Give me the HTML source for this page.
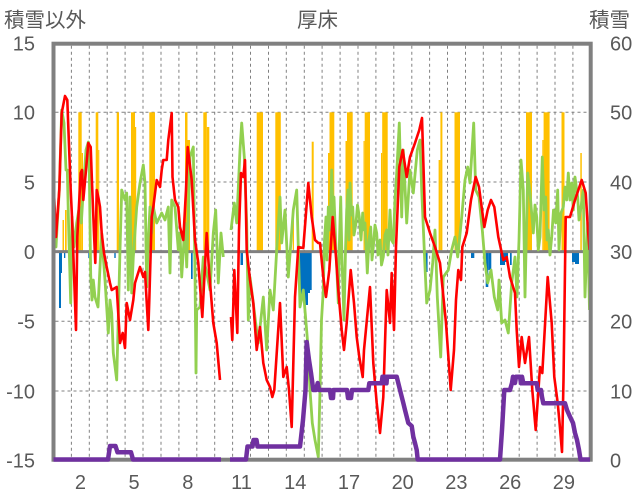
<!DOCTYPE html>
<html><head><meta charset="utf-8"><style>
html,body{margin:0;padding:0;background:#fff;}
svg{display:block;}
text{font-family:"Liberation Sans","Noto Sans CJK JP",sans-serif;fill:#595959;}
</style></head><body>
<svg width="636" height="501" viewBox="0 0 636 501" xmlns="http://www.w3.org/2000/svg">
<rect x="0" y="0" width="636" height="501" fill="#fff"/>
<!-- titles -->
<text x="4" y="27" font-size="20.5">積雪以外</text>
<text x="317.5" y="27" font-size="20.5" text-anchor="middle">厚床</text>
<text x="589" y="27" font-size="20.5">積雪</text>
<!-- left ticks -->
<g font-size="20" text-anchor="end">
<text x="35" y="50.5">15</text>
<text x="35" y="119.5">10</text>
<text x="35" y="189.3">5</text>
<text x="35" y="259">0</text>
<text x="35" y="328.6">-5</text>
<text x="35" y="398.3">-10</text>
<text x="35" y="467.5">-15</text>
</g>
<g font-size="20">
<text x="610" y="50.5">60</text>
<text x="610" y="119.5">50</text>
<text x="610" y="189.3">40</text>
<text x="610" y="259">30</text>
<text x="610" y="328.6">20</text>
<text x="610" y="398.3">10</text>
<text x="610" y="467.5">0</text>
</g>
<g font-size="20" text-anchor="middle">
<text x="80.4" y="489">2</text>
<text x="134.1" y="489">5</text>
<text x="187.8" y="489">8</text>
<text x="241.5" y="489">11</text>
<text x="295.3" y="489">14</text>
<text x="349" y="489">17</text>
<text x="402.7" y="489">20</text>
<text x="456.4" y="489">23</text>
<text x="510.2" y="489">26</text>
<text x="563.9" y="489">29</text>
</g>
<!-- gridlines -->
<g stroke="#808080" stroke-width="1" stroke-dasharray="3,3" fill="none">
<path d="M55.5 112.3H588.7M55.5 182H588.7M55.5 321.3H588.7M55.5 391H588.7"/>
<path d="M71.4 45.7V457.5M89.3 45.7V457.5M107.2 45.7V457.5M125.1 45.7V457.5M143.0 45.7V457.5M161.0 45.7V457.5M178.9 45.7V457.5M196.8 45.7V457.5M214.7 45.7V457.5M232.6 45.7V457.5M250.5 45.7V457.5M268.5 45.7V457.5M286.3 45.7V457.5M304.3 45.7V457.5M322.1 45.7V457.5M340.1 45.7V457.5M358.0 45.7V457.5M375.9 45.7V457.5M393.8 45.7V457.5M411.8 45.7V457.5M429.6 45.7V457.5M447.5 45.7V457.5M465.5 45.7V457.5M483.3 45.7V457.5M501.3 45.7V457.5M519.2 45.7V457.5M537.1 45.7V457.5M555.0 45.7V457.5M572.9 45.7V457.5"/>
</g>
<!-- orange bars -->
<g fill="#FFC000">
<rect x="62.5" y="220" width="1.5" height="31.6"/>
<rect x="65" y="210" width="1.7" height="41.6"/>
<rect x="78.3" y="112.3" width="3.4" height="139.3"/>
<rect x="81.7" y="153" width="1.3" height="98.6"/>
<rect x="95.7" y="112.3" width="2.6" height="139.3"/>
<rect x="98.3" y="150" width="1" height="101.6"/>
<rect x="116.7" y="112.3" width="2.3" height="139.3"/>
<rect x="131" y="112.3" width="4" height="139.3"/>
<rect x="135" y="127" width="1.2" height="124.6"/>
<rect x="149.3" y="112.3" width="5.7" height="139.3"/>
<rect x="185" y="112.3" width="2.5" height="139.3"/>
<rect x="187.5" y="140" width="2.5" height="111.6"/>
<rect x="203.3" y="112.3" width="3.5" height="139.3"/>
<rect x="206.8" y="127" width="2.5" height="124.6"/>
<rect x="256.7" y="112.3" width="6.3" height="139.3"/>
<rect x="275.3" y="112.3" width="5.5" height="139.3"/>
<rect x="292.7" y="210" width="1.3" height="41.6"/>
<rect x="311.7" y="141.7" width="2" height="110"/>
<rect x="328" y="153" width="1.5" height="98.6"/>
<rect x="329.5" y="112.3" width="4.8" height="139.3"/>
<rect x="345.5" y="141" width="1.5" height="110.6"/>
<rect x="347" y="112.3" width="5.7" height="139.3"/>
<rect x="363.5" y="141" width="1.2" height="110.6"/>
<rect x="364.7" y="112.3" width="5.3" height="139.3"/>
<rect x="381" y="153" width="1.2" height="98.6"/>
<rect x="382.2" y="112.3" width="5.5" height="139.3"/>
<rect x="438.6" y="160" width="1.8" height="91.6"/>
<rect x="440.4" y="112.3" width="2" height="139.3"/>
<rect x="454.5" y="112.3" width="5.5" height="139.3"/>
<rect x="526" y="112.3" width="6" height="139.3"/>
<rect x="542.3" y="140" width="1.3" height="111.6"/>
<rect x="543.6" y="112.3" width="6" height="139.3"/>
<rect x="561.5" y="112.3" width="3" height="139.3"/>
<rect x="580.3" y="153" width="1.5" height="98.6"/>
</g>
<!-- blue bars -->
<g fill="#0070C0">
<rect x="59" y="251.6" width="2" height="56.4"/>
<rect x="61" y="251.6" width="1" height="21.4"/>
<rect x="64" y="251.6" width="1.3" height="6.4"/>
<rect x="88.3" y="251.6" width="1.7" height="6.4"/>
<rect x="114.3" y="251.6" width="1.4" height="6.4"/>
<rect x="191" y="251.6" width="1.7" height="27.4"/>
<rect x="240.5" y="251.6" width="2.5" height="13.4"/>
<rect x="246.7" y="251.6" width="1.6" height="41.4"/>
<rect x="300" y="251.6" width="2" height="48.4"/>
<rect x="302" y="251.6" width="2" height="45.4"/>
<rect x="304" y="251.6" width="2" height="61.4"/>
<rect x="306" y="251.6" width="2" height="53.4"/>
<rect x="308" y="251.6" width="2" height="41.4"/>
<rect x="310" y="251.6" width="1.7" height="38.4"/>
<rect x="424.3" y="251.6" width="3.3" height="20.4"/>
<rect x="471" y="251.6" width="3.3" height="6.4"/>
<rect x="485.7" y="251.6" width="2.6" height="35.4"/>
<rect x="488.3" y="251.6" width="3" height="18.4"/>
<rect x="500" y="251.6" width="5" height="13.4"/>
<rect x="505" y="251.6" width="3" height="10.4"/>
<rect x="510" y="251.6" width="1.7" height="13.4"/>
<rect x="572" y="251.6" width="3" height="10.4"/>
<rect x="575" y="251.6" width="4" height="12.4"/>
</g>
<!-- zero line -->
<line x1="53.5" y1="251.6" x2="590.7" y2="251.6" stroke="#808080" stroke-width="3"/>
<!-- green -->
<g fill="none" stroke="#92D050" stroke-width="2.8" stroke-linejoin="round">
<polyline points="54,233 56,247 57.3,223 59.3,190 61.7,110 64,123 66,170 67.3,170 68.7,230 70.7,303 72,217 74,247 76.7,223 79.3,207 81.3,223 83.3,190 86,150 88.3,142 89.3,173 90.7,275 92,300 93.3,280 95,297 98,307 101.7,233 103.3,257 105,280 108.3,333 110,300 111.7,313 113.3,353 116.7,380 118.3,317 120,250 121.7,190 125,200 126.7,193 128.3,290 130,197 131.7,293 133.3,257 136.7,207 140,183 143.3,165 145,183 146.7,287 148.3,240 150,207 151.7,233 153.3,207 156.7,223 161.7,213 165,220 168.3,207 170,273 171.7,200 175,207 178.3,250 180,233 181.7,277 185,223 186.7,267 190,157 193.3,147 195,273 196,373 196.7,310 200,307 203.3,257 206.7,273 210,290 213.3,233 215.7,210 218.3,283 221,233 223.3,257"/>
<polyline points="231,230 234.3,203 236.7,223 240,150 241.7,123 244.3,157 246.7,223 248.3,320 250,277 253.3,303 255.7,323 258.3,343 263.3,297 266.7,350 270,290 273.3,310 276.7,250 280,197 281.7,243 285,210 288.3,277 293.3,210 296.7,190 300,307 303.3,290 307.7,343 310,390 312.3,423 315,440 318.3,457 320,390 321.5,320 323.3,290 324.5,240 326,217 327,260 328.3,207 330,230 331.7,170 333,215 334,197 336,250 338.3,303 339.5,240 340.7,197 342,260 344,320 345.5,250 346.7,210 348,190 349,240 350,183 351.5,215 352.7,207 354,235 356,223 357.5,205 359.3,217 361,240 362.7,213 364,230 365,223 366.3,250 367.3,273 369,240 370.7,227 372,260 373.3,247 375,225 376.7,233 378,255 380,240 381.5,265 383.3,257 385,235 386.7,230 388,255 390,210 391.5,240 393.3,243 395,200 396.7,173 399.3,123 401.7,217 403.3,150 406.7,223 410,170 413.3,193 417.3,150 420,140 421.7,190 425,267 426.7,303 430,290 432.7,263 435,230 437.3,297 440.7,357 443.3,277 448.3,270 451.7,250 455,237 457.7,257 461.7,217 465,180 467.7,167 470,183 473.7,123 475.7,190 479,197 482.3,230 485,263 487.7,283 491,270 494.3,297 497.7,310 499,280 501.7,323 505,320 508.3,333 511.7,283 515,257 517,297 519,240 521,160 523.3,190 525,297 527.7,173 530,193 533.3,233 535,205 536.7,217 538.3,250 540,237 542.3,157 544,210 545.7,197 547,240 548.3,230 550,255 551.7,237 553.5,210 555.7,223 557.7,190 559,250 561,213 563.3,207 565,187 566.7,200 568.3,173 570,200 571.7,183 573.3,210 575,177 577.7,197 579,220 581,207 583.3,190 585,297 587.7,223 589.5,310"/>
</g>
<!-- red -->
<g fill="none" stroke="#FF0000" stroke-width="2.6" stroke-linejoin="round">
<polyline points="54,193 56,237 59.3,190 61.7,113 65,96 67.3,100 70.7,190 72,217 76,330 77.3,237 80.7,173 82,170 83.3,200 86,170 88.3,143 90.7,147 92,183 94,233 95.3,263 96.7,190 98.3,197 100,207 101.7,233 104,253 106.7,267 110,283 111.7,290 116.7,287 120,343 122.7,333 125,348 126.7,303 130,320 133.3,300 135,283 140,267 143.3,277 145,272 148.3,330 149.3,300 151.7,217 153.3,207 156.7,180 160,187 161.7,170 163.3,160 166.7,160 168.3,140 171.7,113 172.5,177 175,200 178.3,207 180,227 183.3,240 186,190 187.7,147 191.7,180 195,240 198.3,263 202.3,317 206.7,233 209,270 213.3,323 216.7,343 220,380"/>
<polyline points="231,317 232.3,340 234.3,270 237.3,333 239,230 241,173 243.3,177 245,160 246.7,250 250,280 253.3,303 256.7,350 260,327 263.3,363 266.7,380 270,387 272.3,397 274.3,390 280,303 283.3,377 286.7,367 289,390 291.7,427 295,297 298.3,247 303.3,248 305.7,217 308.3,183 311.7,217 315,240 318.3,243 320,243 323.3,277 326,297 329.3,270 332.7,217 336,257 338.3,290 341.7,330 344,350 346.7,323 350.7,270 354,303 356.7,337 359.3,357 362.7,377 364,350 370,287 373.3,363 376.7,403 380,433 383.3,397 386.7,290 390,323 391.7,273 394,330 396,247 399.3,167 402.7,150 406.7,177 410,157 415,143 419.3,130 422,118 425,217 430,233 435,247 440,263 446,323 450.7,390 454,350 456,300 458.3,270 461,280 462.3,247 466.7,233 471,200 475.7,177 479,187 484.3,227 487.7,210 491,200 494.3,207 498.3,237 503.3,260 506.7,257 510,277 515,293 516.7,330 519,367 521.7,337 525,363 529,337 532.3,390 535.7,430 540,367 542.3,373 547.7,277 551.7,323 554.3,377 557.7,403 559.3,420 562,452 563.5,380 565.7,217 570,217 575,200 581.7,180 585.7,193 588,230 589.5,250"/>
</g>
<!-- border -->
<rect x="53.5" y="43.7" width="537.2" height="416" fill="none" stroke="#808080" stroke-width="4"/>
<!-- purple -->
<g fill="none" stroke="#7030A0" stroke-width="4.5" stroke-linejoin="round">
<polyline points="53.5,459.5 108,459.5 110,446 115.5,446 117.5,452.3 131,452.3 133,459.5 221,459.5"/>
<polyline points="230,459.5 246,459.5 247.5,446.5 252.5,446.5 253.5,440 256.5,440 257.5,446.5 300,446.5 303,420 305.5,390 306.7,342 309,360 311,373 313.3,390 316,390 317.7,383 319,390 330,390 331,398 333,398 333.5,390 347,390 348,398 351,398 352,390 368.3,390 369.3,383.3 381.7,383.3 382.5,376.7 385,376.7 385.5,383.3 386.5,383.3 387,376.7 396.7,376.7 400,390 403.3,403 405,410 408.3,423 411.7,426 413.3,436.7 415,443 416.7,450 417.7,459.5 500,459.5 502,430 504.3,390 510,390 512,383 513,376.7 515,383 516,376.7 520,376.7 521,383.3 522,376.7 523.3,383.3 536.7,383.3 537.7,390 541,390 542,397 543.3,403.3 565,403.3 567,410 570,416.7 573,423 575,433 577,440 579,450 580.5,459.5 590,459.5"/>
</g>
</svg>
</body></html>
